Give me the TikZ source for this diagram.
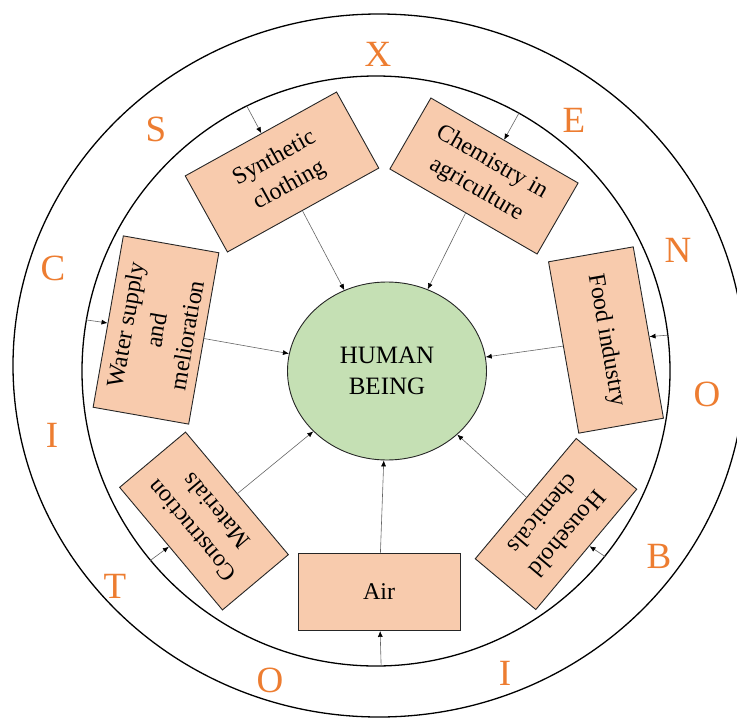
\documentclass[tikz,border=0pt]{standalone}
\usepackage{fontspec}
\setmainfont{Liberation Serif}
\usetikzlibrary{shapes.geometric,arrows.meta}
\definecolor{factorfill}{HTML}{F8CBAD}
\definecolor{humanfill}{HTML}{C5E0B4}
\definecolor{lettercol}{HTML}{ED7D31}
\begin{document}
\begin{tikzpicture}[x=1pt, y=1pt,
        ring/.style={ellipse, draw=black, line width=1.3pt, inner sep=0pt},
        factor/.style={rectangle, draw=black!85, fill=factorfill, line width=0.9pt, align=center, inner sep=2pt, font=\fontsize{24}{31}\selectfont},
        human/.style={ellipse, draw=black!85, fill=humanfill, line width=0.9pt, minimum width=199pt, minimum height=178pt, align=center, font=\fontsize{25}{31}\selectfont},
        letter/.style={text=lettercol, inner sep=0pt, font=\fontsize{37}{37}\selectfont},
        feed/.style={draw=black!60, line width=0.6pt, -{Latex[length=6pt,width=5pt,black]}}
    ]
    \useasboundingbox (0,0) rectangle (737,-718);

    \node[ring, minimum width=732pt, minimum height=703pt] (outer) at (379,-365.5) {};
    \node[ring, minimum width=588pt, minimum height=590pt] (inner) at (376,-371) {};

    \node[human] (human) at (387,-371) {HUMAN\\BEING};

    \node[factor, minimum width=173pt, minimum height=87pt, rotate=29] (synthetic) at (282,-172) {Synthetic\\clothing};
    \node[factor, minimum width=170pt, minimum height=82pt, rotate=-30] (chemistry) at (484,-176) {Chemistry in\\agriculture};
    \node[factor, minimum width=174pt, minimum height=97pt, rotate=80] (water) at (156,-330) {Water supply\\and\\melioration};
    \node[factor, minimum width=174pt, minimum height=86pt, rotate=-80] (food) at (606,-340) {Food industry};
    \node[factor, minimum width=160pt, minimum height=86pt, rotate=130] (construction) at (204,-521) {Construction\\Materials};
    \node[factor, minimum width=157pt, minimum height=79pt, rotate=-130] (household) at (556,-524) {Household\\chemicals};
    \node[factor, minimum width=162pt, minimum height=77pt] (air) at (379,-592) {Air};

    \draw[feed] (synthetic) -- (human);
    \draw[feed] (chemistry) -- (human);
    \draw[feed] (water) -- (human);
    \draw[feed] (food) -- (human);
    \draw[feed] (construction) -- (human);
    \draw[feed] (household) -- (human);
    \draw[feed] (air) -- (human);

    \draw[feed] (inner.116) -- (synthetic);
    \draw[feed] (inner.61.6) -- (chemistry);
    \draw[feed] (inner.170.6) -- (water);
    \draw[feed] (inner.7.5) -- (food);
    \draw[feed] (inner.220.4) -- (construction);
    \draw[feed] (inner.-39.6) -- (household);
    \draw[feed] (inner.271) -- (air);

    \foreach \ch/\x/\y [count=\i] in {X/378/54, E/574/120, N/678/250, O/707/394, B/659/556, I/505/673, O/270/680, T/115/586, I/52/435, C/53/268, S/156/129}
        \node[letter] (letter\i) at (\x,-\y) {\ch};
\end{tikzpicture}
\end{document}
